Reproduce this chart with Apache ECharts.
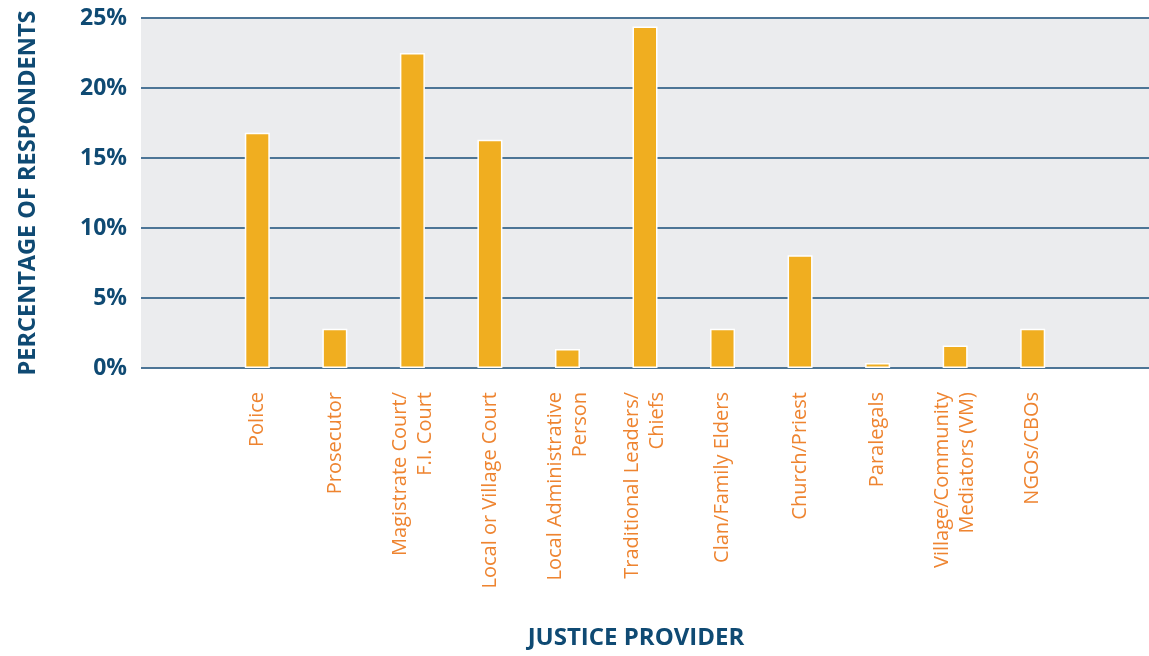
<!DOCTYPE html>
<html>
<head>
<meta charset="utf-8">
<script src="https://cdn.jsdelivr.net/npm/echarts@6/dist/echarts.min.js"></script>
<style>
html,body{margin:0;padding:0;background:#fff;}
#chart{width:1149px;height:656px;}
</style>
</head>
<body>
<div id="chart"></div>
<script>
const categories = ['', 'Police', 'Prosecutor', 'Magistrate Court/\nF.I. Court', 'Local or Village Court',
  'Local Administrative\nPerson', 'Traditional Leaders/\nChiefs', 'Clan/Family Elders', 'Church/Priest',
  'Paralegals', 'Village/Community\nMediators (VM)', 'NGOs/CBOs', ''];
const values = [null, 16.8, 2.8, 22.5, 16.3, 1.35, 24.4, 2.8, 8.05, 0.36, 1.6, 2.8, null];
const yTicks = [0, 5, 10, 15, 20, 25];

const chart = echarts.init(document.getElementById('chart'));
chart.setOption({
  animation: false,
  grid: {left: 141, right: 0, top: 18, bottom: 288, show: true, backgroundColor: '#EBECEE', borderWidth: 0,
    outerBoundsMode: 'none', containLabel: false},
  xAxis: {
    type: 'category', data: categories,
    axisLine: {show: false}, axisTick: {show: false},
    axisLabel: {interval: 0, rotate: 90, margin: 24, color: '#EE8430', fontSize: 20, lineHeight: 25,
      fontFamily: 'Open Sans'},
    name: 'JUSTICE PROVIDER', nameLocation: 'middle', nameGap: 258,
    nameTextStyle: {color: '#0F4A73', fontSize: 24, fontWeight: 'bold', fontFamily: 'Open Sans', padding: [0, 18, 0, 0]}
  },
  yAxis: {
    type: 'value', min: yTicks[0], max: yTicks[yTicks.length - 1], interval: 5,
    axisLine: {show: false}, axisTick: {show: false},
    splitLine: {lineStyle: {color: '#4D7596', width: 2}},
    axisLabel: {formatter: '{value}%', color: '#0F4A73', fontSize: 23, fontWeight: 'bold', fontFamily: 'Open Sans', margin: 14},
    name: 'PERCENTAGE OF RESPONDENTS', nameLocation: 'middle', nameGap: 101, nameRotate: 90,
    nameTextStyle: {color: '#0F4A73', fontSize: 23.5, fontWeight: 'bold', fontFamily: 'Open Sans'}
  },
  series: [{
    type: 'bar', data: values, barWidth: 25,
    itemStyle: {color: '#F0AE20', borderColor: '#ffffff', borderWidth: 1.5}
  }]
});
</script>
</body>
</html>
